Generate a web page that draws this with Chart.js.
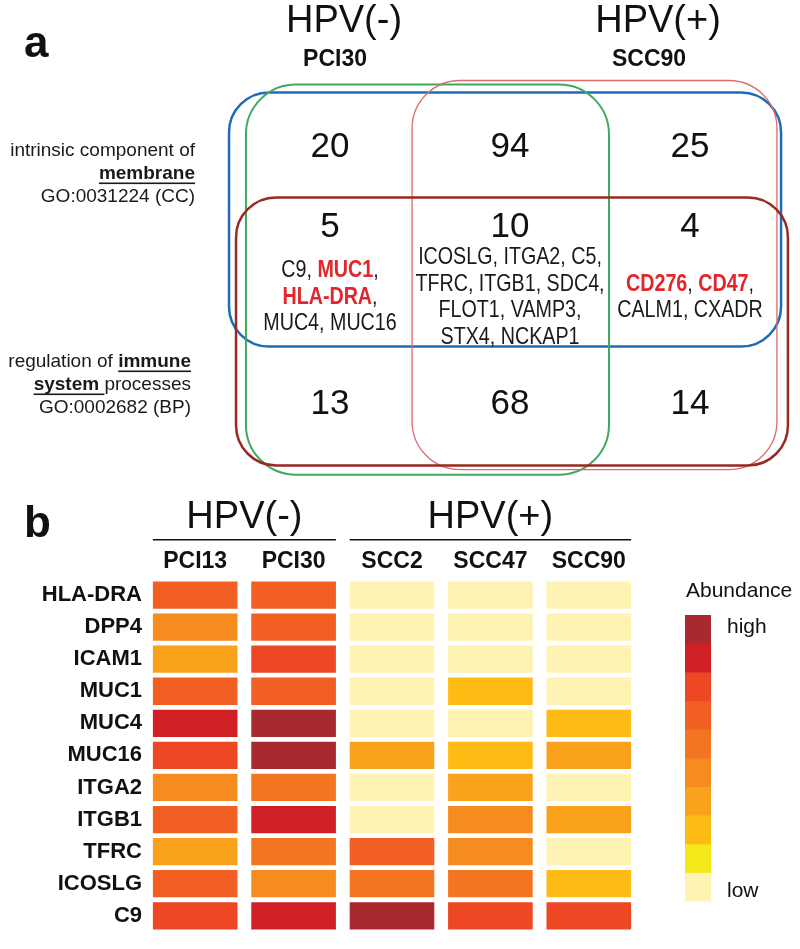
<!DOCTYPE html>
<html>
<head>
<meta charset="utf-8">
<script src="https://cdn.jsdelivr.net/npm/chart.js@4.4.1/dist/chart.umd.min.js"></script>
<style>
  body { margin: 0; background: #fff; }
  .panel { position: relative; width: 800px; }
  #vennPanel { height: 490px; }
  #heatPanel { height: 459px; }
</style>
</head>
<body>
<div class="panel" id="vennPanel"><canvas id="vennChart"></canvas></div>
<div class="panel" id="heatPanel"><canvas id="heatChart"></canvas></div>
<script>
/* PANEL A - VENN */

const vennGroups = ["HPV(-)", "HPV(+)"];
const vennLines = ["PCI30", "SCC90"];
// rows: membrane only, both terms, immune only / cols: PCI30 only, both, SCC90 only
const regionCounts = [
  [20, 94, 25],
  [5, 10, 4],
  [13, 68, 14]
];
const sharedGenes = [
  ["C9, MUC1,", "HLA-DRA,", "MUC4, MUC16"],
  ["ICOSLG, ITGA2, C5,", "TFRC, ITGB1, SDC4,", "FLOT1, VAMP3,", "STX4, NCKAP1"],
  ["CD276, CD47,", "CALM1, CXADR"]
];
const highlighted = ["MUC1", "HLA-DRA", "CD276", "CD47"];
const termLabels = [
  ["intrinsic component of", "_membrane_", "GO:0031224 (CC)"],
  ["regulation of _immune_", "_system _processes", "GO:0002682 (BP)"]
];
// which columns / rows each set covers
const vennSets = [
  { name: "membrane", cols: [0, 2], rows: [0, 1] },
  { name: "PCI30", cols: [0, 1], rows: [0, 2] },
  { name: "SCC90", cols: [1, 2], rows: [0, 2] },
  { name: "immune", cols: [0, 2], rows: [1, 2] }
];

/* PANEL B - HEATMAP */

const genes = ["HLA-DRA", "DPP4", "ICAM1", "MUC1", "MUC4", "MUC16", "ITGA2", "ITGB1", "TFRC", "ICOSLG", "C9"];
const cellLines = ["PCI13", "PCI30", "SCC2", "SCC47", "SCC90"];
const hpvGroups = [
  { label: "HPV(-)", from: 0, to: 1 },
  { label: "HPV(+)", from: 2, to: 4 }
];
// abundance level 1 (low) .. 10 (high), one value per gene
const PCI13 = [7, 5, 4, 7, 9, 8, 5, 7, 4, 7, 8];
const PCI30 = [7, 7, 8, 7, 10, 10, 6, 9, 6, 5, 9];
const SCC2 = [1, 1, 1, 1, 1, 4, 1, 1, 7, 6, 10];
const SCC47 = [1, 1, 1, 3, 1, 3, 4, 5, 5, 6, 8];
const SCC90 = [1, 1, 1, 1, 3, 4, 1, 4, 1, 3, 8];
const levels = [PCI13, PCI30, SCC2, SCC47, SCC90];
const palette = ["#FEF3B2", "#F4E81A", "#FDBB14", "#FAA21B", "#F68B1F", "#F37421", "#F15F22", "#EE4723", "#D11F26", "#A8292E"];


const SANS = "'Liberation Sans', Arial, sans-serif";

const setStyle = {
  membrane: { color: "#1F6BB5", width: 2.5, radius: 40, pad: [0.561, 0.506, 0.405, 0.572] },
  PCI30: { color: "#3DAA5E", width: 2, radius: 50, pad: [0.467, 0.55, 0.467, 0.57] },
  SCC90: { color: "#DE6A6A", width: 1.3, radius: 48, pad: [0.544, 0.483, 0.498, 0.53] },
  immune: { color: "#992A22", width: 2.5, radius: 40, pad: [0.522, 0.544, 0.588, 0.498] }
};

// draw a list of {text, font, color, underline} pieces on one line
// sx < 1 squeezes the text horizontally (narrow face)
function drawPieces(ctx, pieces, x, y, align, sx) {
  sx = sx || 1;
  var total = 0;
  pieces.forEach(function (p) { ctx.font = p.font; p.w = ctx.measureText(p.text).width * sx; total += p.w; });
  var cx = align === "right" ? x - total : (align === "center" ? x - total / 2 : x);
  ctx.textAlign = "left";
  ctx.textBaseline = "alphabetic";
  pieces.forEach(function (p) {
    ctx.font = p.font;
    ctx.fillStyle = p.color;
    ctx.save();
    ctx.translate(cx, y);
    ctx.scale(sx, 1);
    ctx.fillText(p.text, 0, 0);
    ctx.restore();
    if (p.underline) {
      ctx.fillRect(cx, y + 3, p.w, 1.6);
    }
    cx += p.w;
  });
}

function termPieces(line) {
  var out = [];
  line.split("_").forEach(function (t, i) {
    if (!t.length) return;
    var bold = i % 2 === 1;
    out.push({ text: t, font: (bold ? "bold " : "") + "19px " + SANS, color: "#1a1a1a", underline: bold });
  });
  return out;
}

function genePieces(line) {
  return line.split(/([A-Z0-9-]+)/).filter(function (t) { return t.length; }).map(function (t) {
    var hot = highlighted.indexOf(t) >= 0;
    return { text: t, font: (hot ? "bold " : "") + "24px " + SANS, color: hot ? "#E3262B" : "#1a1a1a" };
  });
}

const regionPoints = [];
regionCounts.forEach(function (row, r) {
  row.forEach(function (n, c) { regionPoints.push({ x: c, y: r }); });
});

const vennPlugin = {
  id: "vennDraw",
  afterDatasetsDraw(chart) {
    const ctx = chart.ctx;
    const xs = chart.scales.x, ys = chart.scales.y;
    ctx.save();

    vennSets.forEach(function (s) {
      const st = setStyle[s.name];
      const x0 = xs.getPixelForValue(s.cols[0] - st.pad[0]);
      const x1 = xs.getPixelForValue(s.cols[1] + st.pad[1]);
      const y0 = ys.getPixelForValue(s.rows[0] - st.pad[2]);
      const y1 = ys.getPixelForValue(s.rows[1] + st.pad[3]);
      ctx.beginPath();
      ctx.roundRect(x0, y0, x1 - x0, y1 - y0, st.radius);
      ctx.strokeStyle = st.color;
      ctx.lineWidth = st.width;
      ctx.stroke();
    });

    // counts
    const pts = chart.getDatasetMeta(0).data;
    ctx.fillStyle = "#111";
    ctx.font = "35px " + SANS;
    ctx.textAlign = "center";
    ctx.textBaseline = "alphabetic";
    regionPoints.forEach(function (p, i) {
      const n = regionCounts[p.y][p.x];
      const yy = p.y === 1 ? pts[i].y - 36 : pts[i].y + 13;
      ctx.fillText(String(n), pts[i].x, yy);
    });

    // gene lists in the membrane & immune overlap
    sharedGenes.forEach(function (lines, c) {
      const cx = xs.getPixelForValue(c);
      const cy = ys.getPixelForValue(1) + 31;
      lines.forEach(function (line, i) {
        drawPieces(ctx, genePieces(line), cx, cy + (i - (lines.length - 1) / 2) * 26.5, "center", 0.82);
      });
    });

    // GO term labels
    termLabels[0].forEach(function (line, i) {
      drawPieces(ctx, termPieces(line), 195, ys.getPixelForValue(0) + 12 + i * 23, "right");
    });
    termLabels[1].forEach(function (line, i) {
      drawPieces(ctx, termPieces(line), 191, ys.getPixelForValue(2) - 34 + i * 23, "right");
    });

    // headers
    ctx.fillStyle = "#111";
    ctx.textAlign = "center";
    ctx.font = "38px " + SANS;
    ctx.fillText(vennGroups[0], xs.getPixelForValue(0) + 14, 32);
    ctx.fillText(vennGroups[1], xs.getPixelForValue(2) - 32, 32);
    ctx.font = "bold 23px " + SANS;
    ctx.fillText(vennLines[0], xs.getPixelForValue(0) + 5, 66);
    ctx.fillText(vennLines[1], xs.getPixelForValue(2) - 41, 66);

    ctx.textAlign = "left";
    ctx.font = "bold 44px " + SANS;
    ctx.fillText("a", 24, 57);
    ctx.restore();
  }
};

new Chart("vennChart", {
  type: "scatter",
  data: { datasets: [{ data: regionPoints, pointRadius: 0 }] },
  options: {
    responsive: true,
    maintainAspectRatio: false,
    animation: false,
    events: [],
    layout: { padding: { left: 150, right: 2, top: 16, bottom: 5 } },
    scales: {
      x: { type: "linear", min: -1, max: 2.6, display: false },
      y: { type: "linear", min: -1, max: 2.65, reverse: true, display: false }
    },
    plugins: { legend: { display: false }, tooltip: { enabled: false } }
  },
  plugins: [vennPlugin]
});


/* heatmap: one floating bar per cell */

const heatPlugin = {
  id: "heatDecor",
  afterDraw(chart) {
    const ctx = chart.ctx;
    const xs = chart.scales.x;
    const area = chart.chartArea;
    ctx.save();
    ctx.fillStyle = "#111";
    ctx.textBaseline = "alphabetic";

    hpvGroups.forEach(function (g) {
      const x0 = xs.getPixelForValue(g.from - 0.43);
      const x1 = xs.getPixelForValue(g.to + 0.43);
      ctx.font = "38px " + SANS;
      ctx.textAlign = "center";
      ctx.fillText(g.label, (xs.getPixelForValue(g.from) + xs.getPixelForValue(g.to)) / 2, 38);
      ctx.fillRect(x0, 49, x1 - x0, 1.5);
    });

    ctx.textAlign = "left";
    ctx.font = "bold 44px " + SANS;
    ctx.fillText("b", 24, 47);

    // colour key
    const kx = area.right + 47, ky = area.top + 36, kw = 26, kh = 28.6;
    palette.forEach(function (col, i) {
      ctx.fillStyle = col;
      ctx.fillRect(kx, ky + (palette.length - 1 - i) * kh, kw, kh + 0.5);
    });
    ctx.fillStyle = "#111";
    ctx.font = "21px " + SANS;
    ctx.fillText("Abundance", kx + 1, ky - 18);
    ctx.fillText("high", kx + 42, ky + 18);
    ctx.fillText("low", kx + 42, ky + palette.length * kh - 4);
    ctx.restore();
  }
};

const heatSets = cellLines.map(function (name, c) {
  return {
    label: name,
    data: genes.map(function () { return [c - 0.43, c + 0.43]; }),
    backgroundColor: levels[c].map(function (l) { return palette[l - 1]; }),
    borderWidth: 0,
    grouped: false,
    barPercentage: 0.85,
    categoryPercentage: 1
  };
});

new Chart("heatChart", {
  type: "bar",
  data: { labels: genes, datasets: heatSets },
  options: {
    indexAxis: "y",
    responsive: true,
    maintainAspectRatio: false,
    animation: false,
    events: [],
    layout: { padding: { left: 0, right: 162, top: 0, bottom: 6 } },
    scales: {
      x: {
        type: "linear",
        position: "top",
        min: -0.5,
        max: 4.5,
        grid: { display: false, drawTicks: false },
        border: { display: false },
        afterBuildTicks: function (scale) {
          scale.ticks = cellLines.map(function (n, i) { return { value: i }; });
        },
        afterFit: function (scale) { scale.height = 89; },
        ticks: {
          padding: 4,
          color: "#111",
          font: { family: SANS, size: 23, weight: "bold" },
          callback: function (v) { return cellLines[v]; }
        }
      },
      y: {
        type: "category",
        grid: { display: false, drawTicks: false },
        border: { display: false },
        afterFit: function (scale) { scale.width = 146; },
        ticks: {
          padding: 4,
          color: "#111",
          font: { family: SANS, size: 22, weight: "bold" }
        }
      }
    },
    plugins: { legend: { display: false }, tooltip: { enabled: false } }
  },
  plugins: [heatPlugin]
});
</script>
</body>
</html>
